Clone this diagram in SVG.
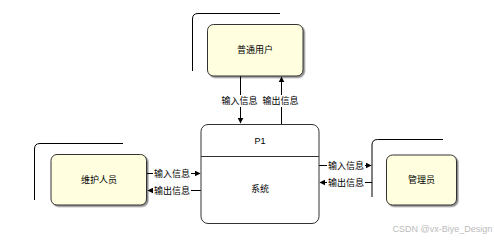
<svg xmlns="http://www.w3.org/2000/svg" width="494" height="240" viewBox="0 0 494 240">
<defs>
<marker id="ah" viewBox="0 0 10 10" refX="9" refY="5" markerWidth="6" markerHeight="6" markerUnits="userSpaceOnUse" orient="auto">
<path d="M0,0 L10,5 L0,10 z" fill="#000"/>
</marker>
<filter id="sh" x="-10%" y="-10%" width="130%" height="130%">
<feDropShadow dx="1.5" dy="1.5" stdDeviation="0.6" flood-color="#000" flood-opacity="0.45"/>
</filter>
</defs>
<style>
.ent{fill:#ffffe0;stroke:#333;stroke-width:1;filter:url(#sh)}
.brk{fill:none;stroke:#000;stroke-width:1}
.t{font-family:"Liberation Sans","Noto Sans CJK SC",sans-serif;font-size:9px;fill:#000;text-anchor:middle;dominant-baseline:central}
.lbl{font-family:"Liberation Sans","Noto Sans CJK SC",sans-serif;font-size:9px;fill:#000;text-anchor:middle;dominant-baseline:central}
.ln{fill:none;stroke:#000;stroke-width:1}
.bg{fill:#fff}
</style>
<rect width="494" height="240" fill="#fff"/>
<g id="connectors">
<path class="ln" d="M240.5,76 L240.5,123" marker-end="url(#ah)"/>
<path class="ln" d="M281.5,124 L281.5,77" marker-end="url(#ah)"/>
<path class="ln" d="M147,173.5 L200,173.5" marker-end="url(#ah)"/>
<path class="ln" d="M201,190.5 L148,190.5" marker-end="url(#ah)"/>
<path class="ln" d="M319,165.5 L371,165.5" marker-end="url(#ah)"/>
<path class="ln" d="M372,182.5 L320,182.5" marker-end="url(#ah)"/>
<rect class="bg" x="221" y="95" width="37" height="12"/>
<text class="lbl" x="239.5" y="101">输入信息</text>
<rect class="bg" x="261" y="95" width="39" height="12"/>
<text class="lbl" x="280.5" y="101">输出信息</text>
<rect class="bg" x="153" y="167.5" width="38" height="12"/>
<text class="lbl" x="172" y="173.5">输入信息</text>
<rect class="bg" x="153" y="184.5" width="38" height="12"/>
<text class="lbl" x="172" y="190.5">输出信息</text>
<rect class="bg" x="327" y="159.5" width="38" height="12"/>
<text class="lbl" x="346" y="165.5">输入信息</text>
<rect class="bg" x="327" y="176.5" width="38" height="12"/>
<text class="lbl" x="346" y="182.5">输出信息</text>
</g>
<g id="user">
<path class="brk" d="M192.5,71 L192.5,19 Q192.5,13.5 198,13.5 L280,13.5"/>
<rect class="ent" x="207.5" y="24.5" width="95.5" height="51.5" rx="6"/>
<text class="t" x="255" y="50">普通用户</text>
</g>
<g id="p1">
<rect x="201" y="124.5" width="118" height="99" rx="7" fill="#fff" stroke="#333" stroke-width="1"/>
<line x1="201" y1="156.5" x2="319" y2="156.5" stroke="#333" stroke-width="1"/>
<text class="t" x="260" y="141">P1</text>
<text class="t" x="260" y="189">系统</text>
</g>
<g id="maintainer">
<path class="brk" d="M34.5,200 L34.5,149 Q34.5,143.5 40,143.5 L123,143.5"/>
<rect class="ent" x="51" y="154.5" width="95.5" height="50.5" rx="6"/>
<text class="t" x="99" y="180">维护人员</text>
</g>
<g id="admin">
<path class="brk" d="M372,197 L372,145 Q372,139.5 377.5,139.5 L443,139.5"/>
<rect class="ent" x="386.5" y="155" width="70" height="50" rx="6"/>
<text class="t" x="421.5" y="180">管理员</text>
</g>
<text x="392.5" y="229" font-family="Liberation Sans,sans-serif" font-size="9px" fill="#bbb" dominant-baseline="central">CSDN @vx-Biye_Design</text>
</svg>
